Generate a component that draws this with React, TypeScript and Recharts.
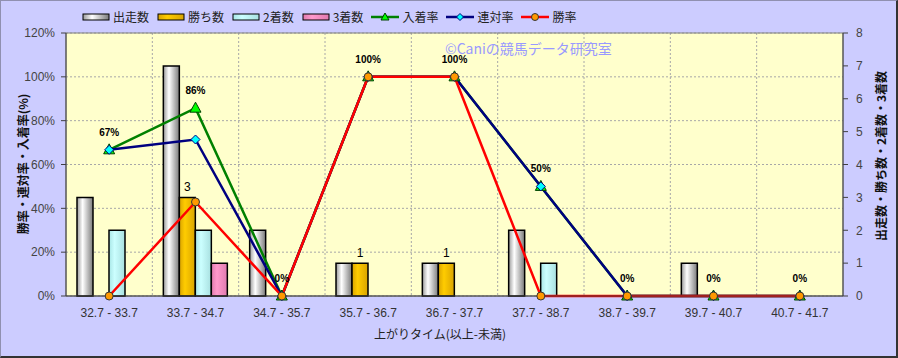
import React from 'react';
import { ComposedChart, Bar, Line, XAxis, YAxis, CartesianGrid, LabelList, ReferenceArea } from 'recharts';

const categories = ['32.7 - 33.7', '33.7 - 34.7', '34.7 - 35.7', '35.7 - 36.7', '36.7 - 37.7', '37.7 - 38.7', '38.7 - 39.7', '39.7 - 40.7', '40.7 - 41.7'];
const starts = [3, 7, 2, 1, 1, 2, 0, 1, 0];
const wins = [0, 3, 0, 1, 1, 0, 0, 0, 0];
const seconds = [2, 2, 0, 0, 0, 1, 0, 0, 0];
const thirds = [0, 1, 0, 0, 0, 0, 0, 0, 0];
const placeRate = [66.7, 85.7, 0, 100, 100, 50, 0, 0, 0];
const quinellaRate = [66.7, 71.4, 0, 100, 100, 50, 0, 0, 0];
const winRate = [0, 42.9, 0, 100, 100, 0, 0, 0, 0];
const leftTicks = [0, 20, 40, 60, 80, 100, 120];
const rightTicks = [0, 1, 2, 3, 4, 5, 6, 7, 8];

const data = categories.map((c, i) => ({
  cat: c,
  starts: starts[i],
  wins: wins[i],
  seconds: seconds[i],
  thirds: thirds[i],
  place: placeRate[i],
  quinella: quinellaRate[i],
  win: winRate[i],
}));

const jp = "'Noto Sans CJK JP', sans-serif";
const num = "'Liberation Sans', Arial, sans-serif";

const Triangle = (props: any) => {
  const { cx, cy } = props;
  if (cx == null || cy == null) return null;
  return <path d={`M${cx},${cy - 6}L${cx + 5.5},${cy + 4}L${cx - 5.5},${cy + 4}Z`} fill="#00FF00" stroke="#004000" strokeWidth={1} />;
};

const Diamond = (props: any) => {
  const { cx, cy } = props;
  if (cx == null || cy == null) return null;
  return <path d={`M${cx},${cy - 4.5}L${cx + 4.5},${cy}L${cx},${cy + 4.5}L${cx - 4.5},${cy}Z`} fill="#00FFFF" stroke="#000080" strokeWidth={1} />;
};

const RateLabel = (props: any) => {
  const { x, y, value } = props;
  return (
    <text x={x} y={y - 14} textAnchor="middle" fontSize={10} fontWeight="bold" fontFamily={num} fill="#000">
      {Math.round(value)}%
    </text>
  );
};

const WinLabel = (props: any) => {
  const { x, y, width, value } = props;
  if (!value) return null;
  return (
    <text x={x + width / 2} y={y - 6} textAnchor="middle" fontSize={12} fontFamily={num} fill="#000">
      {value}
    </text>
  );
};

const legendItems = [
  { name: '出走数', type: 'bar', fill: 'url(#gWhite)' },
  { name: '勝ち数', type: 'bar', fill: 'url(#gGold)' },
  { name: '2着数', type: 'bar', fill: 'url(#gCyan)' },
  { name: '3着数', type: 'bar', fill: 'url(#gPink)' },
  { name: '入着率', type: 'tri', color: '#008000' },
  { name: '連対率', type: 'dia', color: '#000080' },
  { name: '勝率', type: 'dot', color: '#FF0000' },
];

function Gradients() {
  return (
    <defs>
      <linearGradient id="gWhite" x1="0" y1="0" x2="1" y2="0">
        <stop offset="0%" stopColor="#9a9a9a" />
        <stop offset="35%" stopColor="#ffffff" />
        <stop offset="100%" stopColor="#7a7a7a" />
      </linearGradient>
      <linearGradient id="gGold" x1="0" y1="0" x2="1" y2="0">
        <stop offset="0%" stopColor="#d9a400" />
        <stop offset="35%" stopColor="#ffcc00" />
        <stop offset="100%" stopColor="#d9a400" />
      </linearGradient>
      <linearGradient id="gCyan" x1="0" y1="0" x2="1" y2="0">
        <stop offset="0%" stopColor="#a8e6e6" />
        <stop offset="35%" stopColor="#ccffff" />
        <stop offset="100%" stopColor="#a8e0e0" />
      </linearGradient>
      <linearGradient id="gPink" x1="0" y1="0" x2="1" y2="0">
        <stop offset="0%" stopColor="#e07aae" />
        <stop offset="35%" stopColor="#ff99cc" />
        <stop offset="100%" stopColor="#e07aae" />
      </linearGradient>
    </defs>
  );
}

function Legend() {
  return (
    <div style={{ position: 'absolute', left: 82, top: 9, display: 'flex', alignItems: 'center', gap: 8, fontFamily: jp, fontSize: 12, color: '#222', lineHeight: '16px' }}>
      {legendItems.map((it) => (
        <div key={it.name} style={{ display: 'flex', alignItems: 'center', gap: 3 }}>
          <svg width={28} height={10}>
            <Gradients />
            {it.type === 'bar' && <rect x={1} y={2} width={26} height={6} fill={it.fill} stroke="#000" strokeWidth={1} />}
            {it.type !== 'bar' && <line x1={0} y1={5} x2={28} y2={5} stroke={it.color} strokeWidth={2.5} />}
            {it.type === 'tri' && <path d="M14,1L18,8L10,8Z" fill="#00FF00" stroke="#004000" strokeWidth={1} />}
            {it.type === 'dia' && <path d="M14,1.5L17.5,5L14,8.5L10.5,5Z" fill="#00FFFF" stroke="#000080" strokeWidth={1} />}
            {it.type === 'dot' && <circle cx={14} cy={5} r={3.5} fill="#FF9900" stroke="#333" strokeWidth={1} />}
          </svg>
          <span>{it.name}</span>
        </div>
      ))}
    </div>
  );
}

export default function App() {
  const n = categories.length;
  return (
    <div style={{ position: 'absolute', left: 0, top: 0, width: 898, height: 358, background: '#CCCCFF', overflow: 'hidden' }}>
      <ComposedChart width={898} height={358} data={data} margin={{ top: 33, right: 8, left: 8, bottom: 32 }} barCategoryGap={11} barGap={0}>
        <Gradients />
        <CartesianGrid
          yAxisId="left"
          fill="#FFFFCC"
          stroke="#A8A8A8"
          strokeDasharray="2 2"
          verticalCoordinatesGenerator={({ offset }: any) =>
            Array.from({ length: n - 1 }, (_, i) => offset.left + (offset.width * (i + 1)) / n)
          }
        />
        <ReferenceArea yAxisId="left" y1={0} y2={120} fill="none" stroke="#808080" strokeWidth={1} ifOverflow="visible" />
        <XAxis
          dataKey="cat"
          height={30}
          tickLine={false}
          axisLine={{ stroke: '#404040' }}
          tick={{ fontSize: 12, fill: '#333', fontFamily: num }}
          tickMargin={6}
          interval={0}
        />
        <YAxis
          yAxisId="left"
          width={58}
          domain={[0, 120]}
          ticks={leftTicks}
          tickFormatter={(v: number) => `${v}%`}
          tickSize={5}
          tickMargin={6}
          axisLine={{ stroke: '#404040' }}
          tickLine={{ stroke: '#404040' }}
          tick={{ fontSize: 12, fill: '#444', fontFamily: num }}
        />
        <YAxis
          yAxisId="right"
          orientation="right"
          width={47}
          domain={[0, 8]}
          ticks={rightTicks}
          tickSize={5}
          tickMargin={8}
          axisLine={{ stroke: '#404040' }}
          tickLine={{ stroke: '#404040' }}
          tick={{ fontSize: 12, fill: '#444', fontFamily: num }}
        />
        <Bar yAxisId="right" dataKey="starts" fill="url(#gWhite)" stroke="#000" strokeWidth={1.5} isAnimationActive={false} />
        <Bar yAxisId="right" dataKey="wins" fill="url(#gGold)" stroke="#000" strokeWidth={1.5} isAnimationActive={false}>
          <LabelList dataKey="wins" content={WinLabel} />
        </Bar>
        <Bar yAxisId="right" dataKey="seconds" fill="url(#gCyan)" stroke="#000" strokeWidth={1.5} isAnimationActive={false} />
        <Bar yAxisId="right" dataKey="thirds" fill="url(#gPink)" stroke="#000" strokeWidth={1.5} isAnimationActive={false} />
        <Line yAxisId="left" type="linear" dataKey="place" stroke="#008000" strokeWidth={2.5} dot={<Triangle />} isAnimationActive={false}>
          <LabelList dataKey="place" content={RateLabel} />
        </Line>
        <Line yAxisId="left" type="linear" dataKey="quinella" stroke="#000080" strokeWidth={2.5} dot={<Diamond />} isAnimationActive={false} />
        <Line yAxisId="left" type="linear" dataKey="win" stroke="#FF0000" strokeWidth={2.5} dot={{ r: 4, fill: '#FF9900', stroke: '#333', strokeWidth: 1 }} isAnimationActive={false} />
      </ComposedChart>
      <Legend />
      <div style={{ position: 'absolute', left: 445, top: 39, fontFamily: jp, fontSize: 14, color: '#9999FF', whiteSpace: 'nowrap', lineHeight: '18px' }}>
        ©Caniの競馬データ研究室
      </div>
      <div style={{ position: 'absolute', left: 22, top: 164, transform: 'translate(-50%, -50%) rotate(-90deg)', fontFamily: jp, fontSize: 12, fontWeight: 'bold', color: '#111', whiteSpace: 'nowrap' }}>
        勝率・連対率・入着率(%)
      </div>
      <div style={{ position: 'absolute', left: 880, top: 156, transform: 'translate(-50%, -50%) rotate(-90deg)', fontFamily: jp, fontSize: 12, fontWeight: 'bold', color: '#111', whiteSpace: 'nowrap' }}>
        出走数・勝ち数・2着数・3着数
      </div>
      <div style={{ position: 'absolute', left: 440, top: 333, transform: 'translate(-50%, -50%)', fontFamily: jp, fontSize: 12, color: '#222', whiteSpace: 'nowrap' }}>
        上がりタイム(以上-未満)
      </div>
      <div style={{ position: 'absolute', inset: 0, borderTop: '1px solid #9090b0', borderLeft: '1px solid #9090b0', borderRight: '2px solid #333', borderBottom: '2px solid #333', pointerEvents: 'none' }} />
    </div>
  );
}
